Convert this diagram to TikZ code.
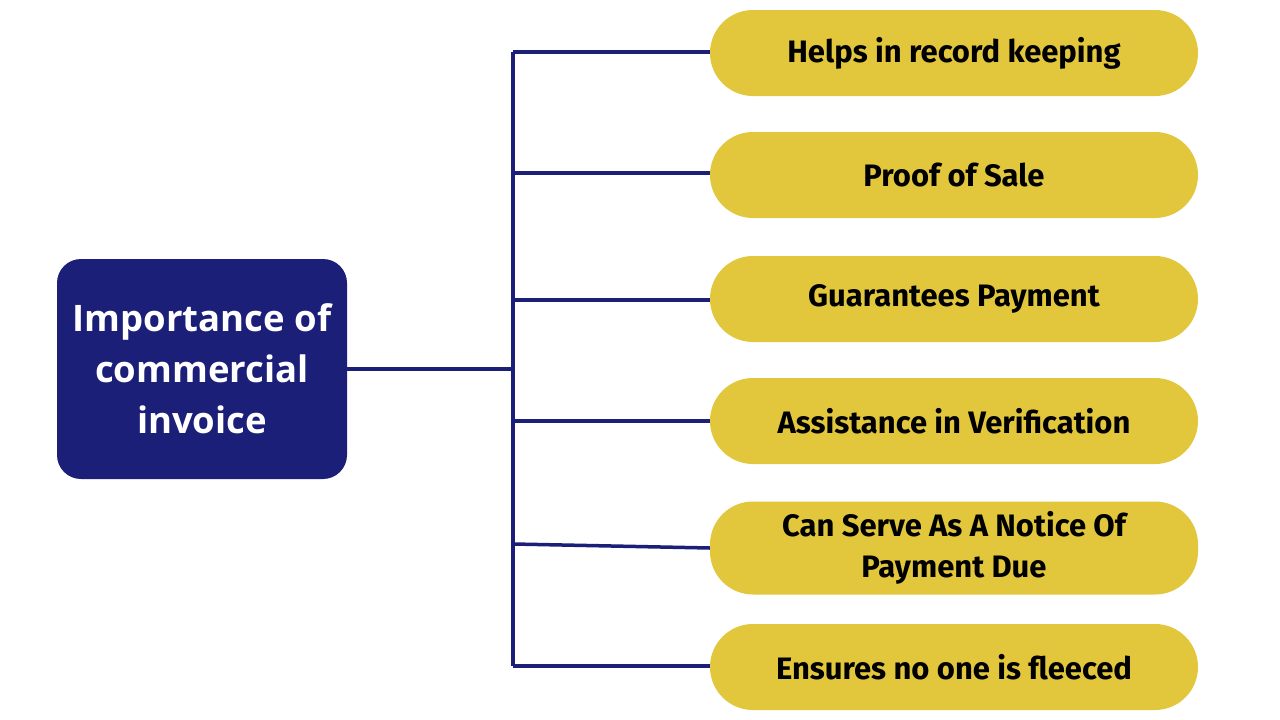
\documentclass[tikz,border=0pt]{standalone}
\usepackage{fontspec}
\setmainfont{Fira Sans}
\newfontfamily\boxfont{Open Sans}
\definecolor{navy}{HTML}{1C1F78}
\definecolor{mustard}{HTML}{E2C73D}
\begin{document}
\begin{tikzpicture}[x=1pt,y=-1pt,
  pill/.style={fill=mustard, rounded corners=43pt, minimum width=488pt, minimum height=86pt,
    inner sep=0pt, align=center, font=\fontsize{31}{41}\selectfont\bfseries, text=black},
  mainbox/.style={fill=navy, rounded corners=24pt, minimum width=290pt, minimum height=220pt,
    inner sep=0pt, align=center, font=\boxfont\fontsize{36.5}{51}\selectfont\bfseries, text=white},
  link/.style={draw=navy, line width=3.5pt}]
\useasboundingbox (0,0) rectangle (1280,720);
\fill[white] (0,0) rectangle (1280,720);
\node[mainbox] (main) at (202,369) {Importance of\\commercial\\invoice};
\node[pill] (p1) at (954,53) {Helps in record keeping};
\node[pill] (p2) at (954,175) {Proof of Sale};
\node[pill] (p3) at (954,299) {Guarantees Payment};
\node[pill] (p4) at (954,421) {Assistance in Verification};
\node[pill, minimum height=93pt] (p5) at (954,548) {Can Serve As A Notice Of\\Payment Due};
\node[pill] (p6) at (954,667) {Ensures no one is fleeced};
\coordinate (top) at (513,52);
\coordinate (bot) at (513,666);
\coordinate (hub) at (513,369);
\coordinate (j2) at (513,173);
\coordinate (j3) at (513,300);
\coordinate (j4) at (513,421);
\coordinate (j5) at (513,544);
\draw[link] (top) -- (bot);
\draw[link] (main.east |- hub) -- (hub);
\draw[link] (top) -- (p1.west |- top);
\draw[link] (j2) -- (p2.west |- j2);
\draw[link] (j3) -- (p3.west |- j3);
\draw[link] (j4) -- (p4.west |- j4);
\draw[link] (j5) -- (p5.west);
\draw[link] (bot) -- (p6.west |- bot);
\end{tikzpicture}
\end{document}
